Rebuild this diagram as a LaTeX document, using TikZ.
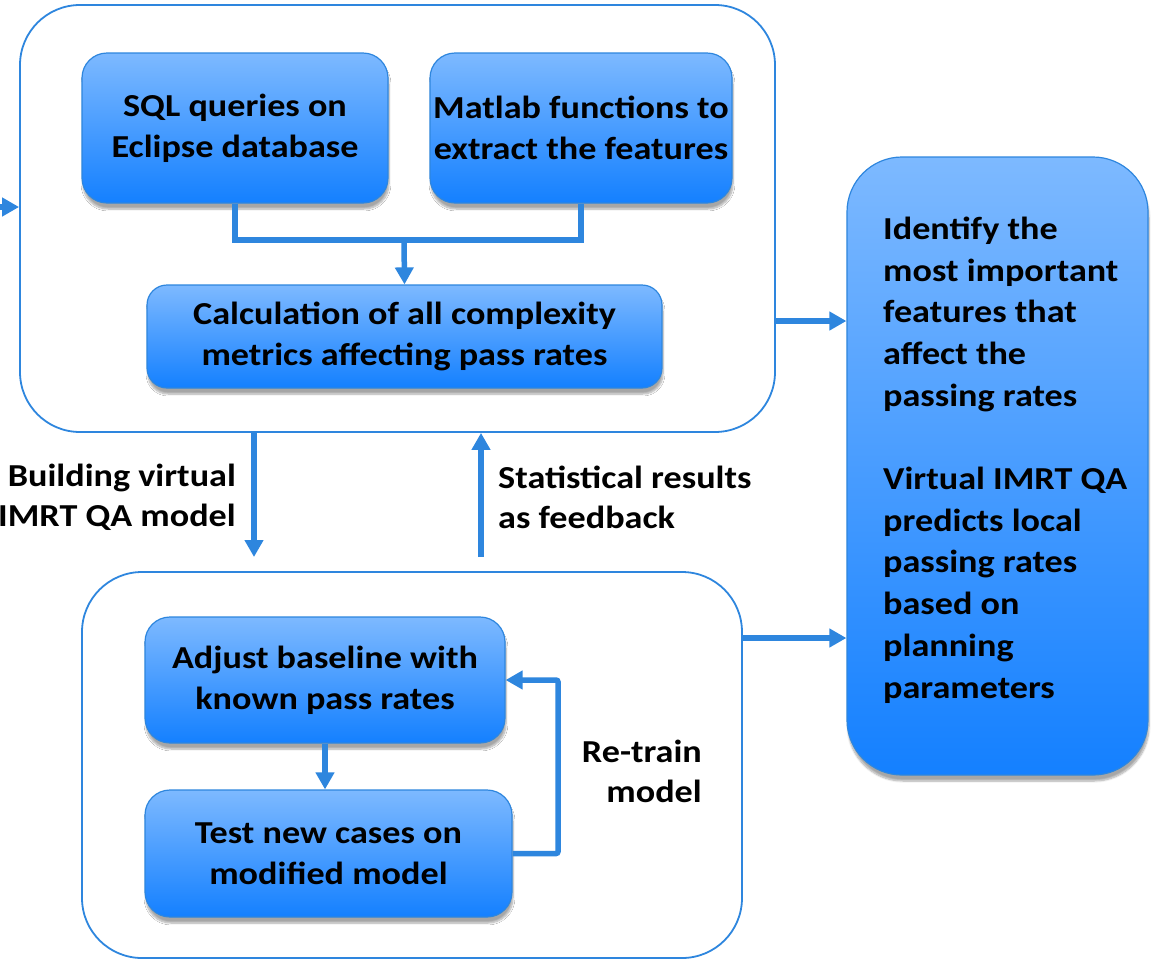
\documentclass[tikz,border=0pt]{standalone}
\usepackage{fontspec}
\setmainfont{Carlito}[FakeStretch=1.13]
\usetikzlibrary{arrows.meta,shadows.blur,calc}
\definecolor{flowblue}{HTML}{2E86DE}
\definecolor{boxtop}{HTML}{7DB9FF}
\definecolor{boxbot}{HTML}{1480FF}
\tikzset{
  panel/.style={draw=flowblue, line width=1.8pt, fill=white, rounded corners=60pt, inner sep=0pt},
  stepbox/.style={draw=flowblue, line width=1.2pt, top color=boxtop, bottom color=boxbot,
    rounded corners=25pt, align=center, inner sep=0pt,
    font=\bfseries\fontsize{32}{41}\selectfont,
    blur shadow={shadow xshift=1pt, shadow yshift=-6pt, shadow blur steps=8, shadow opacity=35}},
  label/.style={inner sep=0pt, font=\bfseries\fontsize{32}{40}\selectfont},
  link/.style={draw=flowblue, line width=5.5pt},
  arr/.style={link, -{Triangle[length=17pt,width=18pt]}}
}
\begin{document}
\begin{tikzpicture}[x=1pt,y=-1pt]
\useasboundingbox (0,0) rectangle (1153,962);

% outer panels
\node[panel, minimum width=755pt, minimum height=427pt] (top) at (397.5,218.5) {};
\node[panel, minimum width=660pt, minimum height=386pt] (bot) at (412,765) {};

% result box
\node[stepbox, rounded corners=55pt, minimum width=301pt, minimum height=618pt] (res) at (997.5,466) {};
\node[inner sep=0pt, anchor=west, align=left, font=\bfseries\fontsize{32}{41.7}\selectfont] (restext) at (883,460)
  {Identify the\\most important\\features that\\affect the\\passing rates\\[41.7pt]
   Virtual IMRT QA\\predicts local\\passing rates\\based on\\planning\\parameters};

% data preparation steps
\node[stepbox, minimum width=306pt, minimum height=150pt] (sql) at (235,128) {SQL queries on\\Eclipse database};
\node[stepbox, minimum width=302pt, minimum height=150pt] (mat) at (581,128) {Matlab functions to\\extract the features};
\node[stepbox, rounded corners=20pt, minimum width=515pt, minimum height=103pt] (calc) at (404.5,336.5) {Calculation of all complexity\\metrics affecting pass rates};

% model steps
\node[stepbox, minimum width=360pt, minimum height=126pt] (adj) at (325,680) {Adjust baseline with\\known pass rates};
\node[stepbox, minimum width=367pt, minimum height=127pt] (test) at (328.5,853.5) {Test new cases on\\modified model};

% labels
\node[label, align=right, anchor=east] (lbuild) at (236,497) {Building virtual\\IMRT QA model};
\node[label, align=left, anchor=west] (lstat) at (498,497) {Statistical results\\as feedback};
\node[label, align=right, anchor=east] (lre) at (702,771) {Re-train\\model};

% helper points
\coordinate (join) at (404,240);
\coordinate (inp) at (0,207);
\coordinate (r1) at (0,321);
\coordinate (r2) at (0,638);
\coordinate (downend) at (254,557);
\coordinate (upstart) at (481,557);
\coordinate (loopx) at (558,0);

% connectors
\draw[link] (sql.south) |- (join) -| (mat.south);
\draw[arr] (join) -- (calc.north);
\draw[arr] (inp) -- (inp -| top.west);
\draw[arr] (r1 -| top.east) -- (r1 -| res.west);
\draw[arr] (r2 -| bot.east) -- (r2 -| res.west);
\draw[arr] (downend |- top.south) -- (downend);
\draw[arr] (upstart) -- (upstart |- top.south);
\draw[arr] (adj.south) -- (adj.south |- test.north);
\draw[arr, rounded corners=2pt] (test.east) -- (test.east -| loopx) |- (adj.east);
\end{tikzpicture}
\end{document}
